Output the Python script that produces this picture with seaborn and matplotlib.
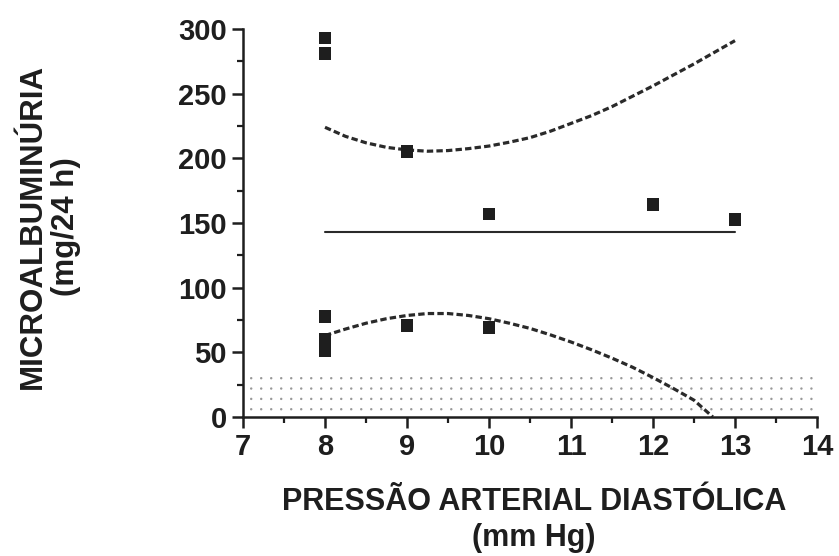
import numpy as np
import pandas as pd
import matplotlib
matplotlib.use("Agg")
import matplotlib.pyplot as plt
import seaborn as sns
from matplotlib.ticker import MultipleLocator

# ---- data ----
pad_x = [8, 8, 8, 8, 8, 8, 9, 9, 10, 10, 12, 13]
micro_y = [293, 281, 78, 60, 55, 51, 205, 71, 157, 69, 164, 153]

mean_x = [8, 13]
mean_y = [143, 143]

upper_x = [8, 8.25, 8.5, 8.75, 9, 9.25, 9.5, 9.75, 10, 10.25, 10.5, 10.75,
           11, 11.25, 11.5, 11.75, 12, 12.25, 12.5, 12.75, 13]
upper_y = [224, 217, 212, 208.5, 206.5, 205.5, 206, 207.5, 209.5, 212.5, 216, 221,
           227, 233, 240, 248, 256, 264.5, 273, 282, 291]

lower_x = [8, 8.25, 8.5, 8.75, 9, 9.25, 9.5, 9.75, 10, 10.25, 10.5, 10.75,
           11, 11.25, 11.5, 11.75, 12, 12.25, 12.5, 12.73]
lower_y = [63, 68, 72.5, 76, 78.5, 80, 80, 78.5, 76, 72.5, 68.5, 63.5,
           58, 52, 45.5, 38.5, 30.5, 22, 13, 0]

normal_rows = [6, 14, 22, 30]      # dotted "normal range" band rows
x_ticks = [7, 8, 9, 10, 11, 12, 13, 14]
y_ticks = [0, 50, 100, 150, 200, 250, 300]

sns.set_theme(style="ticks")
plt.rcParams['font.family'] = ['Liberation Sans', 'DejaVu Sans']
ink = "#1e1e1e"

fig = plt.figure(figsize=(8.39, 5.56), dpi=100)
ax = fig.add_axes([243 / 839, 1 - 417 / 556, (817 - 243) / 839, (417 - 29) / 556])

# dotted band
dot_x = np.arange(7.1, 13.95, 0.122)
dots = pd.DataFrame([(x, y) for y in normal_rows for x in dot_x], columns=["x", "y"])
sns.scatterplot(data=dots, x="x", y="y", ax=ax, s=3, color="#999999",
                edgecolor="none", legend=False, zorder=1)

pts = pd.DataFrame({"x": pad_x, "y": micro_y})
sns.lineplot(x=mean_x, y=mean_y, ax=ax, color="#2a2a2a", lw=1.5, zorder=2)
sns.lineplot(x=upper_x, y=upper_y, ax=ax, color="#2a2a2a", lw=2.3,
             linestyle=(0, (2.0, 1.0)), sort=False, zorder=2)
sns.lineplot(x=lower_x, y=lower_y, ax=ax, color="#2a2a2a", lw=2.3,
             linestyle=(0, (2.0, 1.0)), sort=False, zorder=2)
sns.scatterplot(data=pts, x="x", y="y", ax=ax, marker="s", s=85, color=ink,
                edgecolor="none", legend=False, zorder=3)

ax.set_xlim(7, 14)
ax.set_ylim(0, 300)
ax.set_xticks(x_ticks)
ax.set_yticks(y_ticks)
ax.xaxis.set_minor_locator(MultipleLocator(0.5))
ax.yaxis.set_minor_locator(MultipleLocator(25))
sns.despine(ax=ax)
for s in ["left", "bottom"]:
    ax.spines[s].set_linewidth(1.8)
    ax.spines[s].set_color(ink)
ax.tick_params(which="major", length=8, width=1.8, color=ink, labelsize=21,
               labelcolor=ink, pad=3.5)
ax.tick_params(which="minor", length=4.3, width=1.6, color=ink)
for lab in ax.get_xticklabels() + ax.get_yticklabels():
    lab.set_fontweight("bold")

ax.set_xlabel("PRESSÃO ARTERIAL DIASTÓLICA\n(mm Hg)", fontsize=22,
              fontweight="bold", color=ink, linespacing=1.25)
ax.xaxis.set_label_coords(0.507, -0.18)
ax.set_ylabel("MICROALBUMINÚRIA\n(mg/24 h)", fontsize=22.5,
              fontweight="bold", color=ink, linespacing=1.12)
ax.yaxis.set_label_coords(-0.283, 0.49)

fig.savefig("out.png", dpi=100)
